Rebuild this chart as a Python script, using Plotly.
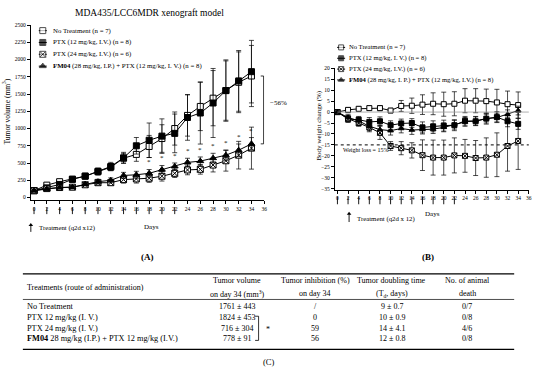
import plotly.graph_objects as go

W, H = 550, 372
FONT = "Liberation Serif"

# ---------------- data ----------------
days = [0, 2, 4, 6, 8, 10, 12, 14, 16, 18, 20, 22, 24, 26, 28, 30, 32, 34]
treat_days = [0, 2, 4, 6, 8, 10, 12, 14, 16, 18, 20, 22]
x_ticks = [0, 2, 4, 6, 8, 10, 12, 14, 16, 18, 20, 22, 24, 26, 28, 30, 32, 34, 36]

series_names = ["No Treatment (n = 7)",
                "PTX (12 mg/kg, I.V.) (n = 8)",
                "PTX (24 mg/kg, I.V.) (n = 6)",
                "<b>FM04</b> (28 mg/kg, I.P.) + PTX (12 mg/kg, I. V.) (n = 8)"]
series_names_b = ["No Treatment (n = 7)",
                  "PTX (12 mg/kg, I. V.) (n = 8)",
                  "PTX (24 mg/kg, I.V.) (n = 6)",
                  "<b>FM04</b> (28 mg/kg, I. P.) + PTX (12 mg/kg, I.V.) (n = 8)"]

# Panel A: tumor volume (mm3)
nt_vol = [100, 180, 230, 265, 310, 375, 440, 570, 625, 740, 855, 1000, 1190, 1320, 1440, 1550, 1670, 1761]
nt_sd = [10, 20, 25, 30, 35, 50, 50, 70, 100, 160, 200, 240, 300, 350, 400, 430, 440, 443]
ptx12_vol = [100, 140, 190, 265, 310, 380, 450, 575, 750, 830, 890, 930, 1160, 1225, 1370, 1550, 1690, 1824]
ptx12_sd = [10, 15, 25, 25, 35, 45, 60, 80, 120, 250, 250, 280, 330, 450, 500, 445, 440, 453]
ptx24_vol = [100, 130, 145, 150, 185, 215, 215, 260, 270, 280, 309, 351, 400, 409, 471, 533, 614, 716]
ptx24_sd = [10, 15, 20, 25, 25, 40, 40, 50, 60, 60, 70, 60, 70, 70, 100, 150, 200, 304]
fm04_vol = [100, 125, 145, 150, 195, 230, 250, 320, 330, 351, 404, 451, 509, 528, 571, 614, 686, 778]
fm04_sd = [10, 15, 20, 20, 25, 35, 35, 45, 50, 55, 60, 50, 60, 60, 70, 75, 90, 91]
sig_days = [18, 20, 22, 24, 26, 28, 30, 32, 34]

# Panel B: body weight change (%)
nt_bw = [0, 1.0, 1.5, 1.8, 1.8, 0.7, 2.8, 2.9, 3.4, 3.8, 3.6, 3.8, 5.2, 5.2, 5.0, 4.4, 3.6, 3.2]
nt_bw_sd = [0, 1, 1, 1, 1.2, 1, 2.5, 3.5, 4.5, 5, 5.5, 5.5, 5.5, 5.5, 5.5, 6, 6, 6]
ptx12_bw = [0, -3.2, -3.5, -4.5, -4.2, -6.0, -5.2, -5.0, -7.0, -6.5, -6.2, -6.0, -4.0, -4.2, -3.0, -2.3, -4.2, -5.4]
ptx12_bw_sd = [0, 1.5, 1.5, 2, 2, 2, 2, 2, 2.5, 2.5, 2.5, 2.5, 2, 2, 2.5, 2.5, 2.5, 2.5]
ptx24_bw = [0, -3.0, -5.0, -7.0, -9.5, -15.5, -16.5, -17.5, -19.7, -20.8, -20.8, -19.8, -20.0, -21.0, -20.8, -19.5, -15.5, -13.2]
ptx24_bw_sd = [0, 1.5, 1.5, 2, 3, 2, 3, 3.5, 7, 8, 8, 8, 7.5, 8, 9, 10, 11.5, 13]
fm04_bw = [0, -2.5, -4.0, -6.5, -8.0, -8.5, -7.5, -8.2, -8.0, -7.8, -7.0, -5.8, -4.5, -4.0, -3.0, -2.5, -1.0, 0.7]
fm04_bw_sd = [0, 1.5, 1.5, 2, 2, 2, 2, 2, 2, 2, 2, 2, 2, 2, 2, 2, 2, 2]

# Table (C)
tbl_header = ["Treatments (route of administration)",
              ["Tumor volume", "on day 34 (mm<sup>3</sup>)"],
              ["Tumor inhibition (%)", "on day 34"],
              ["Tumor doubling time", "(T<sub>d</sub>, days)"],
              ["No. of animal", "death"]]
tbl_treat = ["No Treatment", "PTX 12 mg/kg (I. V.)", "PTX 24 mg/kg (I. V.)",
             "<b>FM04</b> 28 mg/kg (I.P.) + PTX 12 mg/kg (I.V.)"]
tbl_volume = ["1761 ± 443", "1824 ± 453", "716 ± 304", "778 ± 91"]
tbl_inhib = ["/", "0", "59", "56"]
tbl_double = ["9 ± 0.7", "10 ± 0.9", "14 ± 4.1", "12 ± 0.8"]
tbl_death = ["0/7", "0/8", "4/6", "0/8"]


def X(px):
    return px / W


def Y(py):
    return 1 - py / H


fig = go.Figure()

symbols = [("square", "white"), ("square", "black"), ("square-x", "white"), ("triangle-up", "black")]

series_a = [(nt_vol, nt_sd), (ptx12_vol, ptx12_sd), (ptx24_vol, ptx24_sd), (fm04_vol, fm04_sd)]
for (vals, sd), (sym, fill) in zip(series_a, symbols):
    fig.add_trace(go.Scatter(
        x=days, y=vals, mode="lines+markers", xaxis="x", yaxis="y",
        error_y=dict(type="data", array=sd, color="black", thickness=0.7, width=2.5),
        line=dict(color="black", width=1),
        marker=dict(symbol=sym, size=6, color=fill, line=dict(color="black", width=1)),
        showlegend=False, cliponaxis=False))

series_b = [(nt_bw, nt_bw_sd), (ptx12_bw, ptx12_bw_sd), (ptx24_bw, ptx24_bw_sd), (fm04_bw, fm04_bw_sd)]
for (vals, sd), (sym, fill) in zip(series_b, symbols):
    fig.add_trace(go.Scatter(
        x=days, y=vals, mode="lines+markers", xaxis="x2", yaxis="y2",
        error_y=dict(type="data", array=sd, color="black", thickness=0.7, width=2.5),
        line=dict(color="black", width=1),
        marker=dict(symbol=sym, size=5, color=fill, line=dict(color="black", width=1)),
        showlegend=False, cliponaxis=False))

# legend symbols on a pixel overlay axis
leg_a_rows = [28, 40, 52, 64]
leg_b_rows = [45, 56, 67, 78]
for rows, mx, size in [(leg_a_rows, 43, 6), (leg_b_rows, 343, 5)]:
    for ry, (sym, fill) in zip(rows, symbols):
        fig.add_trace(go.Scatter(
            x=[mx - 4, mx, mx + 4], y=[ry, ry, ry], mode="lines+markers",
            xaxis="x3", yaxis="y3", line=dict(color="black", width=1),
            marker=dict(symbol=sym, size=[0, size, 0], color=fill,
                        line=dict(color="black", width=1)),
            showlegend=False, hoverinfo="skip", cliponaxis=False))

# treatment arrows: stems (shapes) + heads (markers)
arrow_a_y = [-165] * len(treat_days)
arrow_b_y = [-37.7] * len(treat_days)
fig.add_trace(go.Scatter(x=treat_days, y=arrow_a_y, mode="markers", xaxis="x", yaxis="y",
                         marker=dict(symbol="triangle-up", size=4, color="black"),
                         showlegend=False, hoverinfo="skip", cliponaxis=False))
fig.add_trace(go.Scatter(x=treat_days, y=arrow_b_y, mode="markers", xaxis="x2", yaxis="y2",
                         marker=dict(symbol="triangle-up", size=4, color="black"),
                         showlegend=False, hoverinfo="skip", cliponaxis=False))
fig.add_trace(go.Scatter(x=[31, 351], y=[225, 213.5], mode="markers", xaxis="x3", yaxis="y3",
                         marker=dict(symbol="triangle-up", size=4, color="black"),
                         showlegend=False, hoverinfo="skip", cliponaxis=False))

ann = []
shapes = []

for d in treat_days:
    shapes.append(dict(type="line", xref="x", yref="paper", x0=d, x1=d, y0=Y(207), y1=Y(214),
                       line=dict(color="black", width=0.9)))
    shapes.append(dict(type="line", xref="x2", yref="paper", x0=d, x1=d, y0=Y(196), y1=Y(204),
                       line=dict(color="black", width=0.9)))
for (lx, ly0, ly1) in [(31, 225, 232), (351, 213.5, 222)]:
    shapes.append(dict(type="line", xref="paper", yref="paper", x0=X(lx), x1=X(lx), y0=Y(ly0), y1=Y(ly1),
                       line=dict(color="black", width=0.9)))


def txt(px, py, s, size=6.5, xanchor="left", yanchor="middle", **kw):
    ann.append(dict(x=X(px), y=Y(py), xref="paper", yref="paper", text=s, showarrow=False,
                    xanchor=xanchor, yanchor=yanchor,
                    font=dict(family=FONT, size=size, color="black"), **kw))


# titles and labels
txt(150, 10, "MDA435/LCC6MDR xenograft model", size=9.5, xanchor="center")
txt(6, 110, "Tumor volume (mm<sup>3</sup>)", size=7.5, xanchor="center", textangle=-90)
txt(321, 124, "Body weight change (%)", size=7, xanchor="center", textangle=-90)
txt(152, 227, "Days", size=7, xanchor="center")
txt(435, 214, "Days", size=7, xanchor="center")
txt(148, 257, "<b>(A)</b>", size=9, xanchor="center")
txt(430, 257, "<b>(B)</b>", size=9, xanchor="center")

# legends text
for ry, name in zip(leg_a_rows, series_names):
    txt(51, ry, name, size=6.8)
for ry, name in zip(leg_b_rows, series_names_b):
    txt(349, ry, name, size=6.6)

txt(37, 228, "Treatment (q2d x12)", size=6.8)
txt(357, 219, "Treatment (q2d x 12)", size=6.8)

# significance asterisks
for d in sig_days:
    i = days.index(d)
    ann.append(dict(x=d, y=fm04_vol[i] + fm04_sd[i] + 15, xref="x", yref="y", text="*",
                    showarrow=False, yanchor="bottom",
                    font=dict(family=FONT, size=7, color="black")))

# bracket -56%
bx = 35.9
shapes.append(dict(type="line", xref="x", yref="y", x0=bx, x1=bx, y0=fm04_vol[-1], y1=nt_vol[-1],
                   line=dict(color="black", width=0.8)))
for yv in (fm04_vol[-1], nt_vol[-1]):
    shapes.append(dict(type="line", xref="x", yref="y", x0=bx - 0.45, x1=bx, y0=yv, y1=yv,
                       line=dict(color="black", width=0.8)))
ann.append(dict(x=X(269), y=(fm04_vol[-1] + nt_vol[-1]) / 2 + 100, xref="paper", yref="y",
                text="−56%", showarrow=False, xanchor="left",
                font=dict(family=FONT, size=7, color="black")))

# panel B reference lines
shapes.append(dict(type="line", xref="x2", yref="y2", x0=0, x1=38.5, y0=0, y1=0,
                   line=dict(color="#9a9a9a", width=0.8)))
shapes.append(dict(type="line", xref="x2", yref="y2", x0=-0.5, x1=38.5, y0=-15, y1=-15,
                   line=dict(color="black", width=1, dash="dot")))
txt(343, 149, "Weight loss = 15%", size=6)

# ---------------- table ----------------
tl, tr = 23, 517
shapes.append(dict(type="line", xref="paper", yref="paper", x0=X(tl), x1=X(tr), y0=Y(274.5), y1=Y(274.5),
                   line=dict(color="black", width=1.2)))
shapes.append(dict(type="line", xref="paper", yref="paper", x0=X(tl), x1=X(tr), y0=Y(300.5), y1=Y(300.5),
                   line=dict(color="black", width=0.7)))
shapes.append(dict(type="line", xref="paper", yref="paper", x0=X(tl), x1=X(tr), y0=Y(351), y1=Y(351),
                   line=dict(color="black", width=1.2)))
col_x = [25, 238, 317, 394, 470]
txt(col_x[0], 288, tbl_header[0], size=8)
for cx, (l1, l2) in zip(col_x[1:], tbl_header[1:]):
    txt(cx, 281, l1, size=8, xanchor="center")
    txt(cx, 294.5, l2, size=8, xanchor="center")
row_y = [307.5, 318.5, 329.5, 340.5]
for i, ry in enumerate(row_y):
    txt(col_x[0], ry, tbl_treat[i], size=8.3)
    txt(col_x[1], ry, tbl_volume[i], size=8, xanchor="center")
    txt(col_x[2], ry, tbl_inhib[i], size=8, xanchor="center")
    txt(col_x[3], ry, tbl_double[i], size=8, xanchor="center")
    txt(col_x[4], ry, tbl_death[i], size=8, xanchor="center")
# bracket in table
bxt = 260
shapes.append(dict(type="line", xref="paper", yref="paper", x0=X(bxt), x1=X(bxt), y0=Y(317.5), y1=Y(342),
                   line=dict(color="black", width=0.8)))
for yy in (317.5, 342):
    shapes.append(dict(type="line", xref="paper", yref="paper", x0=X(bxt - 3.5), x1=X(bxt), y0=Y(yy), y1=Y(yy),
                       line=dict(color="black", width=0.8)))
txt(269, 331, "*", size=8, xanchor="center")
txt(270, 364, "(C)", size=8.5, xanchor="center")

axis_common = dict(showline=True, linecolor="black", linewidth=1, ticks="outside", ticklen=3,
                   tickwidth=1, tickcolor="black", showgrid=False, zeroline=False,
                   tickfont=dict(family=FONT, size=5.5, color="black"), fixedrange=True)

fig.update_layout(
    width=W, height=H, margin=dict(l=0, r=0, t=0, b=0),
    paper_bgcolor="white", plot_bgcolor="rgba(0,0,0,0)",
    font=dict(family=FONT, color="black"),
    xaxis=dict(domain=[X(31), X(265.7)], range=[-0.5, 36], tickvals=x_ticks, anchor="y", **axis_common),
    yaxis=dict(domain=[Y(200), Y(22.3)], range=[-40, 2500], tickvals=list(range(0, 2501, 250)),
               anchor="x", **axis_common),
    xaxis2=dict(domain=[X(336.6), X(531.7)], range=[-0.5, 36], tickvals=x_ticks, anchor="y2", **axis_common),
    yaxis2=dict(domain=[Y(189.3), Y(66.2)], range=[-35.5, 20], tickvals=list(range(-35, 21, 5)),
                anchor="x2", **axis_common),
    xaxis3=dict(domain=[0, 1], range=[0, W], visible=False, anchor="y3", fixedrange=True),
    yaxis3=dict(domain=[0, 1], range=[H, 0], visible=False, anchor="x3", fixedrange=True),
    annotations=ann, shapes=shapes, showlegend=False,
)

fig.write_html("out.html", config={"displayModeBar": False},
               post_script="document.body.style.margin='0';document.body.style.overflow='hidden';")
